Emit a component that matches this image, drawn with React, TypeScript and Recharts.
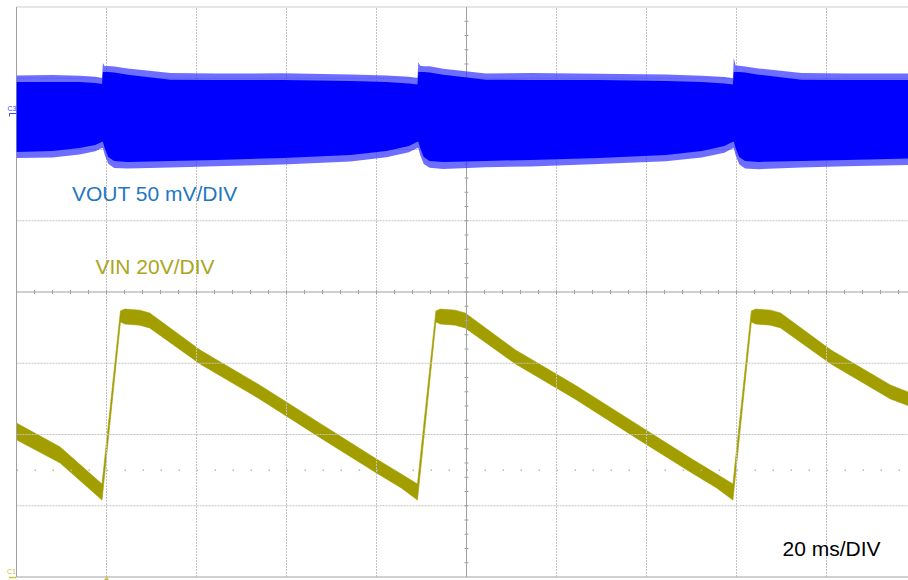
import React from "react";
import { ComposedChart, Area, XAxis, YAxis, ReferenceLine } from "recharts";

// scope settings
const timeDomain: [number, number] = [0, 200]; // ms, 20 ms/DIV, 10 divisions
const timeGrid = [20, 40, 60, 80, 120, 140, 160, 180];
const timeCenter = 100;
const vinDomain: [number, number] = [0, 160]; // V, 20 V/DIV, C1 ground at the bottom
const vinGrid = [20, 40, 60, 100, 120, 140];
const vinCenter = 80;
const vinTrigger = 30;
const voutDomain: [number, number] = [-325, 75]; // mV, 50 mV/DIV, C3 marker at 0

// VIN (C1): trace band, upper and lower edge in volts
const vinTime = [
  0, 9.7, 19.0, 23.1, 24.1, 27.4, 29.6, 40.8, 54.0, 68.0, 80.0, 85.5,
  89.1, 93.2, 94.2, 97.5, 99.7, 110.9, 124.1, 138.1, 150.1, 155.6,
  159.2, 163.3, 164.3, 167.6, 169.8, 181.0, 194.2, 200,
];
const vinHigh = [
  43.2, 36.5, 26.1, 74.7, 75.2, 74.9, 74.1, 63.7, 53.9, 42.7, 33.1, 28.9,
  26.1, 74.7, 75.2, 74.9, 74.1, 63.7, 53.9, 42.7, 33.1, 28.9,
  26.1, 74.7, 75.2, 74.9, 74.1, 63.7, 53.9, 51.0,
];
const vinLow = [
  38.5, 32.0, 21.6, 71.6, 71.0, 70.7, 69.9, 59.8, 50.0, 38.7, 29.2, 25.0,
  21.6, 71.6, 71.0, 70.7, 69.9, 59.8, 50.0, 38.7, 29.2, 25.0,
  21.6, 71.6, 71.0, 70.7, 69.9, 59.8, 50.0, 47.2,
];

// VOUT (C3): ripple body and noise-spike envelope in mV
const voutTime = [
  0, 8, 14, 17.5, 19.0,
  19.2, 19.6, 20.4, 21.7, 24.7, 34.2, 44.2, 59.2, 74.2, 82.2, 87.2, 89.1,
  89.3, 89.7, 90.5, 91.8, 94.8, 104.3, 114.3, 129.3, 144.3, 152.3, 157.3, 159.2,
  159.4, 159.8, 160.6, 161.9, 164.9, 174.4, 184.4, 200,
];
const voutHigh = [
  22.4, 22.4, 22.4, 21.7, 21.0,
  29.4, 29.4, 29.4, 29.0, 27.5, 24.0, 23.8, 23.8, 23.1, 22.4, 21.4, 20.6,
  29.4, 29.4, 29.4, 29.0, 27.5, 24.0, 23.8, 23.8, 23.1, 22.4, 21.4, 20.6,
  29.4, 29.4, 29.4, 29.0, 27.5, 24.0, 23.8, 23.8,
];
const voutLow = [
  -26.7, -26.0, -24.0, -21.8, -19.6,
  -19.6, -24.0, -30.2, -33.0, -33.7, -33.0, -32.3, -30.9, -28.8, -26.0, -22.5, -19.6,
  -19.6, -24.0, -30.2, -33.0, -33.7, -33.0, -32.3, -30.9, -28.8, -26.0, -22.5, -19.6,
  -19.6, -24.0, -30.2, -33.0, -33.7, -33.0, -32.3, -31.2,
];
const voutSpikeHigh = [
  27.0, 27.2, 26.8, 26.0, 25.2,
  35.7, 33.5, 33.6, 33.2, 31.8, 28.6, 28.3, 28.5, 27.7, 27.0, 26.0, 25.2,
  36.4, 33.8, 33.4, 33.4, 31.6, 28.4, 28.6, 28.2, 27.6, 26.8, 25.8, 25.0,
  39.2, 34.0, 33.8, 33.2, 31.9, 28.7, 28.4, 28.3,
];
const voutSpikeLow = [
  -31.0, -30.6, -28.5, -26.3, -24.0,
  -24.0, -28.6, -35.0, -38.0, -38.4, -37.6, -36.8, -35.5, -33.4, -30.5, -27.0, -24.0,
  -24.2, -28.8, -35.2, -37.8, -38.6, -37.4, -36.9, -35.2, -33.2, -30.6, -27.2, -24.1,
  -24.2, -28.9, -35.4, -38.4, -38.8, -37.7, -36.8, -35.8,
];

const vinRows = vinTime.map((t, i) => ({ t, band: [vinLow[i], vinHigh[i]] }));
const voutRows = voutTime.map((t, i) => ({
  t,
  body: [voutLow[i], voutHigh[i]],
  spikes: [voutSpikeLow[i], voutSpikeHigh[i]],
}));

// small tick marks on the centre cross (every 1/5 division)
const timeTicks: number[] = [];
for (let t = 4; t < 200; t += 4) timeTicks.push(t);
const vinTicks: number[] = [];
for (let v = 4; v < 160; v += 4) vinTicks.push(v);

const W = 930;
const H = 580;
const margin = { top: 7, right: 13.5, bottom: 3, left: 16.5 };
const layer: React.CSSProperties = { position: "absolute", left: 0, top: 0 };
const font = "'Liberation Sans', Arial, sans-serif";

const GRID = "#c2c2c2";
const AXIS = "#a0a0a0";
const VIN_COLOR = "#a29e00";
const VOUT_COLOR = "#0000ff";

export default function App() {
  return (
    <div
      style={{
        position: "absolute",
        left: 0,
        top: 0,
        width: 908,
        height: 580,
        overflow: "hidden",
        background: "#fff",
      }}
    >
      {/* grid + VIN */}
      <div style={layer}>
        <ComposedChart width={W} height={H} data={vinRows} margin={margin}>
          <XAxis type="number" dataKey="t" domain={timeDomain} allowDataOverflow hide />
          <YAxis type="number" domain={vinDomain} allowDataOverflow hide />

          {timeGrid.map((t) => (
            <ReferenceLine key={"x" + t} x={t} stroke={GRID} strokeDasharray="2 1" />
          ))}
          {vinGrid.map((v) => (
            <ReferenceLine key={"y" + v} y={v} stroke={GRID} strokeDasharray="2 1" />
          ))}
          <ReferenceLine y={vinTrigger} stroke="#b8b8b8" strokeWidth={1.5} strokeDasharray="1.5 16.5" />

          <ReferenceLine y={vinDomain[1]} stroke="#cdcdcd" />
          <ReferenceLine y={vinDomain[0]} stroke={AXIS} />
          <ReferenceLine x={timeDomain[0]} stroke={AXIS} />
          <ReferenceLine x={timeCenter} stroke={AXIS} />
          <ReferenceLine y={vinCenter} stroke={AXIS} />
          {timeTicks.map((t) => (
            <ReferenceLine
              key={"tx" + t}
              stroke={AXIS}
              segment={[
                { x: t, y: vinCenter - 0.6 },
                { x: t, y: vinCenter + 0.6 },
              ]}
            />
          ))}
          {vinTicks.map((v) => (
            <ReferenceLine
              key={"ty" + v}
              stroke={AXIS}
              segment={[
                { x: timeCenter - 0.45, y: v },
                { x: timeCenter + 0.45, y: v },
              ]}
            />
          ))}

          <Area
            type="linear"
            dataKey="band"
            stroke={VIN_COLOR}
            strokeWidth={0.6}
            fill={VIN_COLOR}
            fillOpacity={1}
            dot={false}
            activeDot={false}
            isAnimationActive={false}
          />
        </ComposedChart>
      </div>

      {/* VOUT */}
      <div style={layer}>
        <ComposedChart width={W} height={H} data={voutRows} margin={margin}>
          <XAxis type="number" dataKey="t" domain={timeDomain} allowDataOverflow hide />
          <YAxis type="number" domain={voutDomain} allowDataOverflow hide />
          <Area
            type="linear"
            dataKey="spikes"
            stroke="none"
            fill="#3434ff"
            fillOpacity={0.72}
            dot={false}
            activeDot={false}
            isAnimationActive={false}
          />
          <Area
            type="linear"
            dataKey="body"
            stroke="none"
            fill={VOUT_COLOR}
            fillOpacity={1}
            dot={false}
            activeDot={false}
            isAnimationActive={false}
          />
        </ComposedChart>
      </div>

      {/* annotations */}
      <svg width={908} height={580} style={{ ...layer, pointerEvents: "none" }}>
        <text x={72} y={201} fontFamily={font} fontSize={21} fill="#1f77c4">
          VOUT 50 mV/DIV
        </text>
        <text x={95.5} y={274} fontFamily={font} fontSize={21} fill="#a9a61c">
          VIN 20V/DIV
        </text>
        <text x={782.5} y={556} fontFamily={font} fontSize={21} fill="#000">
          20 ms/DIV
        </text>
        <text x={7.5} y={111} fontFamily={font} fontSize={7} fill="#4444ff">
          C3
        </text>
        <path d="M9.5 116.5 V113.5 H16" stroke="#4444ff" strokeWidth={1} fill="none" />
        <text x={7} y={574} fontFamily={font} fontSize={7} fill="#c8c440">
          C1
        </text>
        <path d="M9 577.5 H16" stroke="#c8c440" strokeWidth={1.5} fill="none" />
        <path d="M104 580 L106.5 576.5 L109 580 Z" fill="#c8c440" />
      </svg>
    </div>
  );
}
